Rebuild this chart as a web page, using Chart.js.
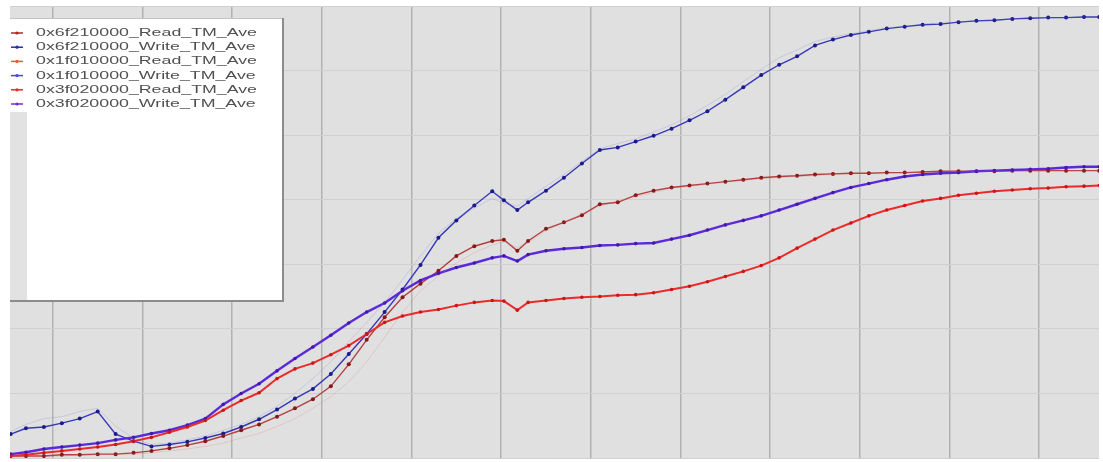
<!DOCTYPE html>
<html>
<head>
<meta charset="utf-8">
<script src="https://cdn.jsdelivr.net/npm/chart.js@4.4.1/dist/chart.umd.min.js"></script>
<style>
  html, body { margin: 0; padding: 0; background: #ffffff; }
  #wrap { width: 1103px; height: 462px; }
</style>
</head>
<body>
<div id="wrap"><canvas id="c" width="1103" height="462"></canvas></div>
<script>
// x positions of the samples (grid lines sit at 0, 10, 20 ... 110)
const xs = [-4.7,-3,-1,1,3,5,7,9,11,13,15,17,19,21,23,25,27,29,31,33,35,37,39,41,43,45,47,49,50.3,51.8,53,55,57,59,61,63,65,67,69,71,73,75,77,79,81,83,85,87,89,91,93,95,97,99,101,103,105,107,109,111,113,115,116.7];
const xGridTicks = [0,10,20,30,40,50,60,70,80,90,100,110];

const seriesNames = [
  "0x6f210000_Read_TM_Ave",
  "0x6f210000_Write_TM_Ave",
  "0x1f010000_Read_TM_Ave",
  "0x1f010000_Write_TM_Ave",
  "0x3f020000_Read_TM_Ave",
  "0x3f020000_Write_TM_Ave"
];

const read6f21 = [0.03,0.03,0.03,0.05,0.05,0.06,0.06,0.08,0.11,0.15,0.20,0.26,0.34,0.43,0.52,0.64,0.77,0.91,1.11,1.45,1.83,2.18,2.49,2.70,2.90,3.13,3.28,3.36,3.38,3.21,3.36,3.55,3.65,3.76,3.93,3.96,4.07,4.14,4.19,4.22,4.25,4.28,4.31,4.34,4.36,4.37,4.39,4.40,4.41,4.41,4.42,4.42,4.43,4.44,4.44,4.44,4.44,4.45,4.45,4.45,4.45,4.45,4.45];
const write6f21 = [0.37,0.46,0.48,0.54,0.61,0.72,0.37,0.26,0.18,0.21,0.25,0.31,0.38,0.48,0.60,0.75,0.92,1.07,1.30,1.61,1.92,2.26,2.61,2.99,3.41,3.68,3.91,4.13,3.99,3.84,3.96,4.14,4.34,4.56,4.77,4.81,4.90,4.99,5.10,5.23,5.37,5.55,5.74,5.93,6.09,6.22,6.39,6.48,6.55,6.60,6.65,6.68,6.71,6.72,6.75,6.77,6.78,6.80,6.81,6.82,6.82,6.83,6.83];
const read1f01 = [0.02,0.02,0.03,0.03,0.05,0.05,0.06,0.06,0.08,0.11,0.14,0.18,0.23,0.31,0.38,0.49,0.61,0.77,0.95,1.18,1.49,1.87,2.26,2.59,2.82,3.02,3.18,3.30,3.35,3.26,3.33,3.52,3.65,3.78,3.90,3.98,4.05,4.11,4.18,4.21,4.24,4.27,4.30,4.33,4.34,4.36,4.37,4.39,4.40,4.41,4.41,4.42,4.42,4.43,4.44,4.44,4.44,4.44,4.45,4.45,4.45,4.45,4.45];
const write1f01 = [0.41,0.52,0.61,0.64,0.72,0.77,0.49,0.31,0.21,0.23,0.28,0.34,0.43,0.52,0.64,0.80,1.00,1.23,1.49,1.80,2.10,2.41,2.76,3.13,3.48,3.71,3.87,4.02,3.94,3.90,4.02,4.21,4.39,4.59,4.79,4.87,4.94,5.05,5.16,5.30,5.46,5.63,5.83,6.02,6.20,6.32,6.45,6.52,6.57,6.62,6.66,6.69,6.71,6.74,6.75,6.77,6.78,6.80,6.82,6.82,6.82,6.83,6.83];
const read3f02 = [0.03,0.05,0.08,0.11,0.14,0.17,0.21,0.26,0.32,0.40,0.48,0.58,0.74,0.89,1.01,1.23,1.38,1.47,1.60,1.74,1.92,2.10,2.20,2.26,2.30,2.36,2.41,2.44,2.43,2.29,2.41,2.44,2.47,2.49,2.50,2.52,2.53,2.56,2.61,2.66,2.73,2.81,2.89,2.98,3.10,3.25,3.39,3.53,3.64,3.75,3.84,3.91,3.98,4.02,4.07,4.10,4.13,4.15,4.17,4.18,4.20,4.21,4.22];
const write3f02 = [0.06,0.09,0.14,0.17,0.20,0.23,0.28,0.32,0.38,0.43,0.51,0.61,0.83,1.00,1.15,1.35,1.54,1.72,1.90,2.09,2.26,2.40,2.59,2.75,2.86,2.95,3.02,3.10,3.13,3.05,3.15,3.21,3.24,3.26,3.29,3.30,3.32,3.33,3.39,3.45,3.53,3.61,3.68,3.75,3.84,3.93,4.02,4.11,4.19,4.25,4.31,4.36,4.39,4.41,4.42,4.44,4.45,4.46,4.47,4.48,4.50,4.51,4.51];

const legendColors = ["#b02a2a", "#2a2aa8", "#e0602a", "#4a4ac8", "#e82a2a", "#7a2ad0"];

function pts(ys) { return xs.map((x, i) => ({ x: x, y: ys[i] })); }

const bgPlugin = {
  id: 'bg',
  beforeDraw(chart) {
    const { ctx, chartArea: a } = chart;
    ctx.save();
    ctx.fillStyle = '#e0e0e0';
    ctx.fillRect(a.left, a.top, a.right - a.left, a.bottom - a.top);
    ctx.restore();
  }
};

const legendPlugin = {
  id: 'boxLegend',
  afterDraw(chart) {
    const ctx = chart.ctx;
    const L = chart.chartArea.left, T = 18, R = 283, B = 301;
    ctx.save();
    ctx.fillStyle = '#ffffff';
    ctx.fillRect(L, T, R - L, B - T);
    ctx.fillStyle = '#e2e2e2';
    ctx.fillRect(L, 112, 17, B - 112);
    ctx.strokeStyle = '#c4c4c4';
    ctx.lineWidth = 1;
    ctx.beginPath(); ctx.moveTo(L, T + 0.5); ctx.lineTo(R, T + 0.5); ctx.stroke();
    ctx.strokeStyle = '#8c8c8c';
    ctx.lineWidth = 2;
    ctx.beginPath(); ctx.moveTo(L, B); ctx.lineTo(R + 1, B); ctx.stroke();
    ctx.beginPath(); ctx.moveTo(R, T); ctx.lineTo(R, B + 1); ctx.stroke();

    ctx.font = '11px "Liberation Sans", Arial, sans-serif';
    ctx.textBaseline = 'middle';
    const w0 = ctx.measureText(seriesNames[0]).width;
    const sx = 221 / w0;
    seriesNames.forEach((name, i) => {
      const y = 33 + i * 14.2;
      ctx.strokeStyle = legendColors[i];
      ctx.lineWidth = 1.5;
      ctx.beginPath(); ctx.moveTo(L + 1, y); ctx.lineTo(L + 13, y); ctx.stroke();
      ctx.fillStyle = legendColors[i];
      ctx.beginPath(); ctx.arc(L + 7, y, 1.6, 0, Math.PI * 2); ctx.fill();
      ctx.save();
      ctx.translate(36, y);
      ctx.scale(sx, 1);
      ctx.fillStyle = '#505050';
      ctx.fillText(name, 0, 0);
      ctx.restore();
    });
    ctx.restore();
  }
};

new Chart(document.getElementById('c'), {
  type: 'line',
  data: {
    datasets: [
      { label: seriesNames[2], data: pts(read1f01), borderColor: 'rgba(215,110,110,0.22)', borderWidth: 1, pointRadius: 0 },
      { label: seriesNames[3], data: pts(write1f01), borderColor: 'rgba(110,110,215,0.22)', borderWidth: 1, pointRadius: 0 },
      { label: seriesNames[4], data: pts(read3f02), borderColor: '#ec2a2a', borderWidth: 2, pointRadius: 1.8, pointBorderWidth: 0, pointBackgroundColor: '#cc1616' },
      { label: seriesNames[5], data: pts(write3f02), borderColor: '#5a2ad8', borderWidth: 2.4, pointRadius: 1.8, pointBorderWidth: 0, pointBackgroundColor: '#4418a8' },
      { label: seriesNames[0], data: pts(read6f21), borderColor: 'rgba(175,45,45,0.9)', borderWidth: 1.4, pointRadius: 2, pointBorderWidth: 0, pointBackgroundColor: '#861818' },
      { label: seriesNames[1], data: pts(write6f21), borderColor: '#3838b8', borderWidth: 1.4, pointRadius: 2, pointBorderWidth: 0, pointBackgroundColor: '#1a1a88' }
    ]
  },
  options: {
    responsive: false,
    animation: false,
    events: [],
    layout: { padding: { left: 10, top: 6, right: 0, bottom: 0 } },
    elements: { line: { tension: 0 } },
    scales: {
      x: {
        type: 'linear', min: -4.78, max: 116.67,
        afterBuildTicks: (s) => { s.ticks = xGridTicks.map(v => ({ value: v })); },
        ticks: { display: false },
        grid: { color: '#b2b2b2', lineWidth: 1.5, drawTicks: false },
        border: { display: false }
      },
      y: {
        min: 0, max: 7,
        ticks: { display: false, stepSize: 1 },
        grid: { color: '#d0d0d0', lineWidth: 1, drawTicks: false },
        border: { display: false }
      }
    },
    plugins: { legend: { display: false }, tooltip: { enabled: false } }
  },
  plugins: [bgPlugin, legendPlugin]
});
</script>
</body>
</html>
